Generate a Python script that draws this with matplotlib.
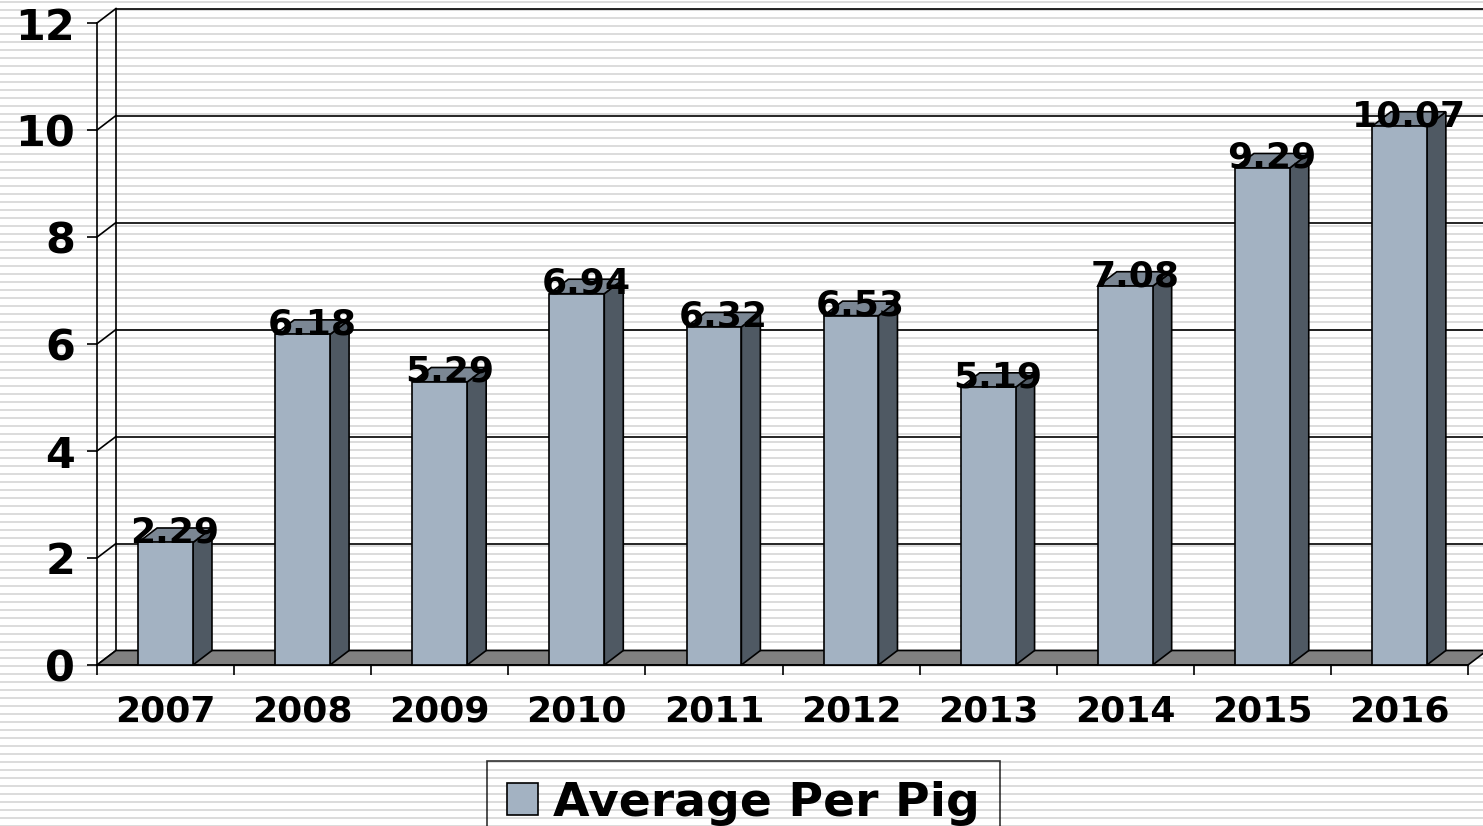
import matplotlib.pyplot as plt
from matplotlib.patches import Polygon, Patch

# data
years = ['2007', '2008', '2009', '2010', '2011', '2012', '2013', '2014', '2015', '2016']
avg_per_pig = [2.29, 6.18, 5.29, 6.94, 6.32, 6.53, 5.19, 7.08, 9.29, 10.07]
y_ticks = [0, 2, 4, 6, 8, 10, 12]

FRONT = '#a3b2c2'
SIDE = '#4f5963'
TOP = '#7b8794'
FLOOR = '#808080'
STRIPE = '#dcdcdc'

W, H = 1483, 826
fig = plt.figure(figsize=(W / 100, H / 100), dpi=100)
fig.patch.set_facecolor('white')

# striped background
bg = fig.add_axes([0, 0, 1, 1], zorder=-1)
bg.set_xlim(0, W)
bg.set_ylim(H, 0)
bg.axis('off')
for y in range(1, H, 8):
    bg.axhspan(y, y + 2, color=STRIPE, lw=0, antialiased=False)

# front axis spans x 97..1468 px, y 665..23 px
ax = fig.add_axes([97 / W, (H - 665) / H, (1468 - 97) / W, (665 - 23) / H])
ax.set_facecolor('none')
ax.set_xlim(0, 10)
ax.set_ylim(0, 12)

# depth offset of the fake 3d (pixels -> data units)
DX = 19 / 137.1
DY = 14.5 / 53.5

# back wall + gridlines
ax.plot([DX, DX], [DY, 12 + DY], color='black', lw=1.2, clip_on=False)
for v in y_ticks:
    ax.plot([0, DX], [v, v + DY], color='black', lw=1.2, clip_on=False)
    ax.plot([DX, 10 + 2 * DX], [v + DY, v + DY], color='black', lw=1.2, clip_on=False)

# floor
ax.add_patch(Polygon([(0, 0), (10, 0), (10 + DX, DY), (DX, DY)], closed=True,
                     fc=FLOOR, ec='black', lw=1.2, clip_on=False, zorder=2))

# bars
for i, v in enumerate(avg_per_pig):
    x0, x1 = i + 0.3, i + 0.7
    ax.add_patch(Polygon([(x1, 0), (x1 + DX, DY), (x1 + DX, v + DY), (x1, v)],
                         closed=True, fc=SIDE, ec='black', lw=1.2, clip_on=False, zorder=3))
    ax.add_patch(Polygon([(x0, v), (x1, v), (x1 + DX, v + DY), (x0 + DX, v + DY)],
                         closed=True, fc=TOP, ec='black', lw=1.2, clip_on=False, zorder=3))
    ax.add_patch(Polygon([(x0, 0), (x1, 0), (x1, v), (x0, v)],
                         closed=True, fc=FRONT, ec='black', lw=1.2, clip_on=False, zorder=3))
    ax.text(i + 0.5 + DX / 2, v, f'{v:.2f}', ha='center', va='baseline',
            fontsize=26, fontweight='bold', zorder=5, clip_on=False)

# axes styling
for s in ['top', 'right']:
    ax.spines[s].set_visible(False)
ax.spines['left'].set_linewidth(1.2)
ax.spines['bottom'].set_linewidth(1.2)
ax.spines['left'].set_zorder(4)

ax.set_yticks(y_ticks)
ax.set_yticklabels([str(t) for t in y_ticks], fontsize=31, fontweight='bold')
ax.tick_params(axis='y', direction='out', length=7.2, width=1.2, pad=8.6)

ax.set_xticks(range(11))
ax.set_xticklabels([])
ax.set_xticks([i + 0.5 for i in range(10)], minor=True)
ax.set_xticklabels(years, minor=True, fontsize=26, fontweight='bold')
ax.tick_params(axis='x', which='major', direction='out', length=7.2, width=1.2)
ax.tick_params(axis='x', which='minor', length=0, pad=21)

# legend (runs off the bottom edge like the original)
leg = fig.legend(handles=[Patch(fc=FRONT, ec='black', lw=1.2, label='Average Per Pig')],
                 loc='upper center', bbox_to_anchor=(743.5 / W, 1 - 761 / H),
                 prop={'weight': 'bold', 'size': 34},
                 fancybox=False, edgecolor='black',
                 handlelength=0.65, handleheight=0.65, handletextpad=0.33,
                 borderpad=0.42, borderaxespad=0)
leg.get_frame().set_facecolor('none')
leg.get_frame().set_linewidth(1.2)

fig.savefig('out.png', dpi=100)
